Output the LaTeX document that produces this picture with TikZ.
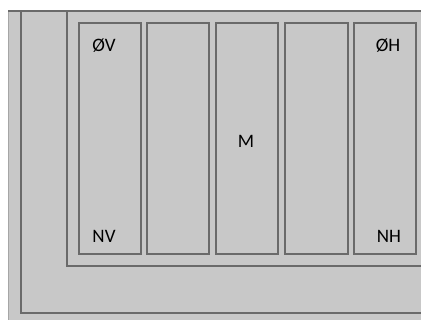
\documentclass[tikz,border=0pt]{standalone}
\usepackage{fontspec}
\setmainfont{Carlito}
\definecolor{fillg}{HTML}{C8C8C8}
\definecolor{lineg}{HTML}{6A6A6A}
\begin{document}
\begin{tikzpicture}[x=1pt,y=-1pt,
  edge/.style={draw=lineg,line width=1.5pt},
  colbox/.style={draw=lineg,line width=1.5pt,rectangle,inner sep=0pt,minimum height=231pt},
  lbl/.style={font=\fontsize{19}{22}\selectfont,text=black,inner sep=0pt}]
\useasboundingbox (0,0) rectangle (421,320);
\fill[fillg] (8,11) rectangle (421,320);
\draw[draw=lineg!60,line width=1pt] (8,320) -- (8,11);
\draw[edge] (8,11) -- (421,11);
\coordinate (a1) at (21,11);
\coordinate (a2) at (21,313);
\coordinate (a3) at (421,313);
\draw[edge] (a1) -- (a2) -- (a3);
\coordinate (b1) at (67,11);
\coordinate (b2) at (67,266);
\coordinate (b3) at (421,266);
\draw[edge] (b1) -- (b2) -- (b3);
\node[colbox,minimum width=62pt] (c1) at (110,138.5) {};
\node[colbox,minimum width=62pt] (c2) at (178,138.5) {};
\node[colbox,minimum width=62pt] (c3) at (247,138.5) {};
\node[colbox,minimum width=63pt] (c4) at (316.5,138.5) {};
\node[colbox,minimum width=62pt] (c5) at (385,138.5) {};
\node[lbl] (ov) at (104,46) {ØV};
\node[lbl] (oh) at (388,46) {ØH};
\node[lbl] (m) at (246,141) {M};
\node[lbl] (nv) at (104,236) {NV};
\node[lbl] (nh) at (389,236) {NH};
\end{tikzpicture}
\end{document}
